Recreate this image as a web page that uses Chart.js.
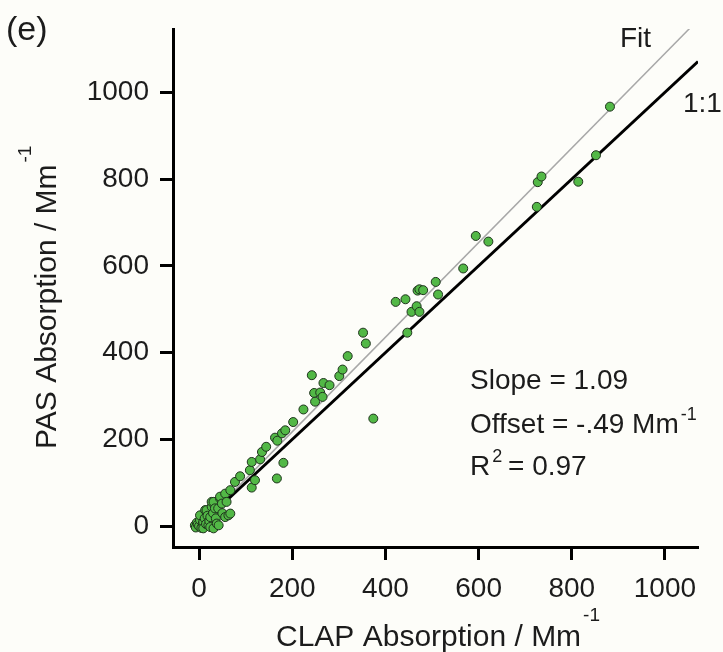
<!DOCTYPE html>
<html>
<head>
<meta charset="utf-8">
<title>PAS vs CLAP absorption</title>
<script src="https://cdn.jsdelivr.net/npm/chart.js@4.4.1/dist/chart.umd.min.js"></script>
<style>
  html, body { margin: 0; padding: 0; background: #fdfdf9; }
  canvas { display: block; }
</style>
</head>
<body>
<canvas id="chart" width="723" height="652"></canvas>
<script>
// CLAP (x) vs PAS (y) absorption, Mm^-1
const clapValues = [
  -9, -5, -7, -3, 0, 2, 2, 5, 8, 9, 9, 12, 13, 16, 15, 18, 20, 22, 24, 24,
  27, 27, 30, 31, 31, 34, 36, 38, 41, 42, 45, 45, 49, 50, 56, 56, 59, 63, 67, 67,
  77, 88, 109, 113, 113, 120, 131, 135, 144, 163, 167, 168, 178, 181, 185, 202,
  224, 242, 247, 249, 260, 265, 267, 280, 301, 308, 319, 352, 358, 374, 422, 443,
  447, 456, 467, 469, 473, 473, 481, 508, 513, 567, 594, 621, 725, 727, 735, 814,
  852, 882
];
const pasValues = [
  2, 8, -3, 4, 0, 14, 25, -4, 6, 10, -5, 18, 37, 37, 5, 24, 2, 12, 21, -2,
  45, 56, 30, 56, -5, 41, 18, 6, 41, 2, 64, 68, 52, 30, 21, 75, 56, 25, 29, 83,
  102, 115, 129, 89, 148, 106, 154, 171, 183, 204, 110, 197, 214, 146, 221, 240,
  269, 348, 307, 287, 308, 298, 330, 325, 346, 361, 392, 446, 421, 248, 517, 523,
  446, 494, 507, 543, 546, 494, 544, 563, 534, 594, 669, 656, 736, 793, 806, 794,
  855, 967
];

// reference lines (endpoints)
const oneToOneX = [-10, 1071];
const oneToOneY = [-10, 1071];
const fitX = [0, 1055];
const fitY = [-0.49, 1149.5];

const xTicks = [0, 200, 400, 600, 800, 1000];
const yTicks = [0, 200, 400, 600, 800, 1000];

const fam = '"Liberation Sans", Arial, sans-serif';
const textColor = '#1c1c1c';

const points = clapValues.map((x, i) => ({ x: x, y: pasValues[i] }));
const oneToOne = oneToOneX.map((x, i) => ({ x: x, y: oneToOneY[i] }));
const fitLine = fitX.map((x, i) => ({ x: x, y: fitY[i] }));

// draws text with a superscript after it
function supText(ctx, base, sup, x, y, size, supSize, rise) {
    ctx.font = size + 'px ' + fam;
    ctx.fillText(base, x, y);
    const w = ctx.measureText(base).width;
    ctx.font = supSize + 'px ' + fam;
    ctx.fillText(sup, x + w + 2, y - rise);
    return w + 2 + ctx.measureText(sup).width;
}

const annotate = {
    id: 'annotate',
    afterDraw(chart) {
        const ctx = chart.ctx;
        ctx.save();
        ctx.fillStyle = textColor;
        ctx.textAlign = 'left';
        ctx.textBaseline = 'alphabetic';

        ctx.font = '34px ' + fam;
        ctx.fillText('(e)', 6, 40);

        ctx.font = '28px ' + fam;
        ctx.fillText('Fit', 620, 47);
        ctx.fillText('1:1', 683, 112);

        ctx.fillText('Slope = 1.09', 470, 389);
        supText(ctx, 'Offset = -.49 Mm', '-1', 470, 433, 28, 18, 13);
        supText(ctx, 'R', '2', 470, 475, 28, 18, 13);
        ctx.font = '28px ' + fam;
        ctx.fillText(' = 0.97', 470 + ctx.measureText('R').width + 10, 475);

        // x axis title
        supText(ctx, 'CLAP Absorption / Mm', '-1', 276, 646, 30, 19, 25);

        // y axis title
        ctx.translate(56, 449);
        ctx.rotate(-Math.PI / 2);
        supText(ctx, 'PAS Absorption / Mm', '-1', 0, 0, 30, 19, 25);

        ctx.restore();
    }
};

const axisBase = {
    type: 'linear',
    border: { display: true, color: '#000', width: 3 },
    grid: {
        display: true,
        drawOnChartArea: false,
        drawTicks: true,
        tickLength: 13,
        tickWidth: 3,
        tickColor: '#000'
    }
};

new Chart(document.getElementById('chart').getContext('2d'), {
    type: 'scatter',
    data: {
        datasets: [
            {
                label: 'data',
                data: points,
                order: 0,
                pointRadius: 4.5,
                pointHoverRadius: 4.5,
                backgroundColor: '#52b846',
                borderColor: '#1e321c',
                borderWidth: 1
            },
            {
                label: '1:1',
                data: oneToOne,
                order: 1,
                showLine: true,
                pointRadius: 0,
                borderColor: '#000',
                borderWidth: 3
            },
            {
                label: 'Fit',
                data: fitLine,
                order: 2,
                showLine: true,
                pointRadius: 0,
                borderColor: '#a8a8a8',
                borderWidth: 1.5
            }
        ]
    },
    options: {
        responsive: false,
        animation: false,
        layout: { padding: { left: 0, right: 25, top: 29, bottom: 0 } },
        plugins: {
            legend: { display: false },
            tooltip: { enabled: false }
        },
        scales: {
            x: {
                ...axisBase,
                min: -56,
                max: 1071,
                afterBuildTicks: scale => { scale.ticks = xTicks.map(v => ({ value: v })); },
                afterFit: scale => { scale.height = 105; },
                ticks: {
                    color: textColor,
                    padding: 12,
                    maxRotation: 0,
                    font: { family: fam, size: 28 },
                    callback: v => String(v)
                }
            },
            y: {
                ...axisBase,
                min: -48,
                max: 1146,
                afterBuildTicks: scale => { scale.ticks = yTicks.map(v => ({ value: v })); },
                afterFit: scale => { scale.width = 173; },
                ticks: {
                    color: textColor,
                    padding: 11,
                    font: { family: fam, size: 28 },
                    callback: v => String(v)
                }
            }
        }
    },
    plugins: [annotate]
});
</script>
</body>
</html>
